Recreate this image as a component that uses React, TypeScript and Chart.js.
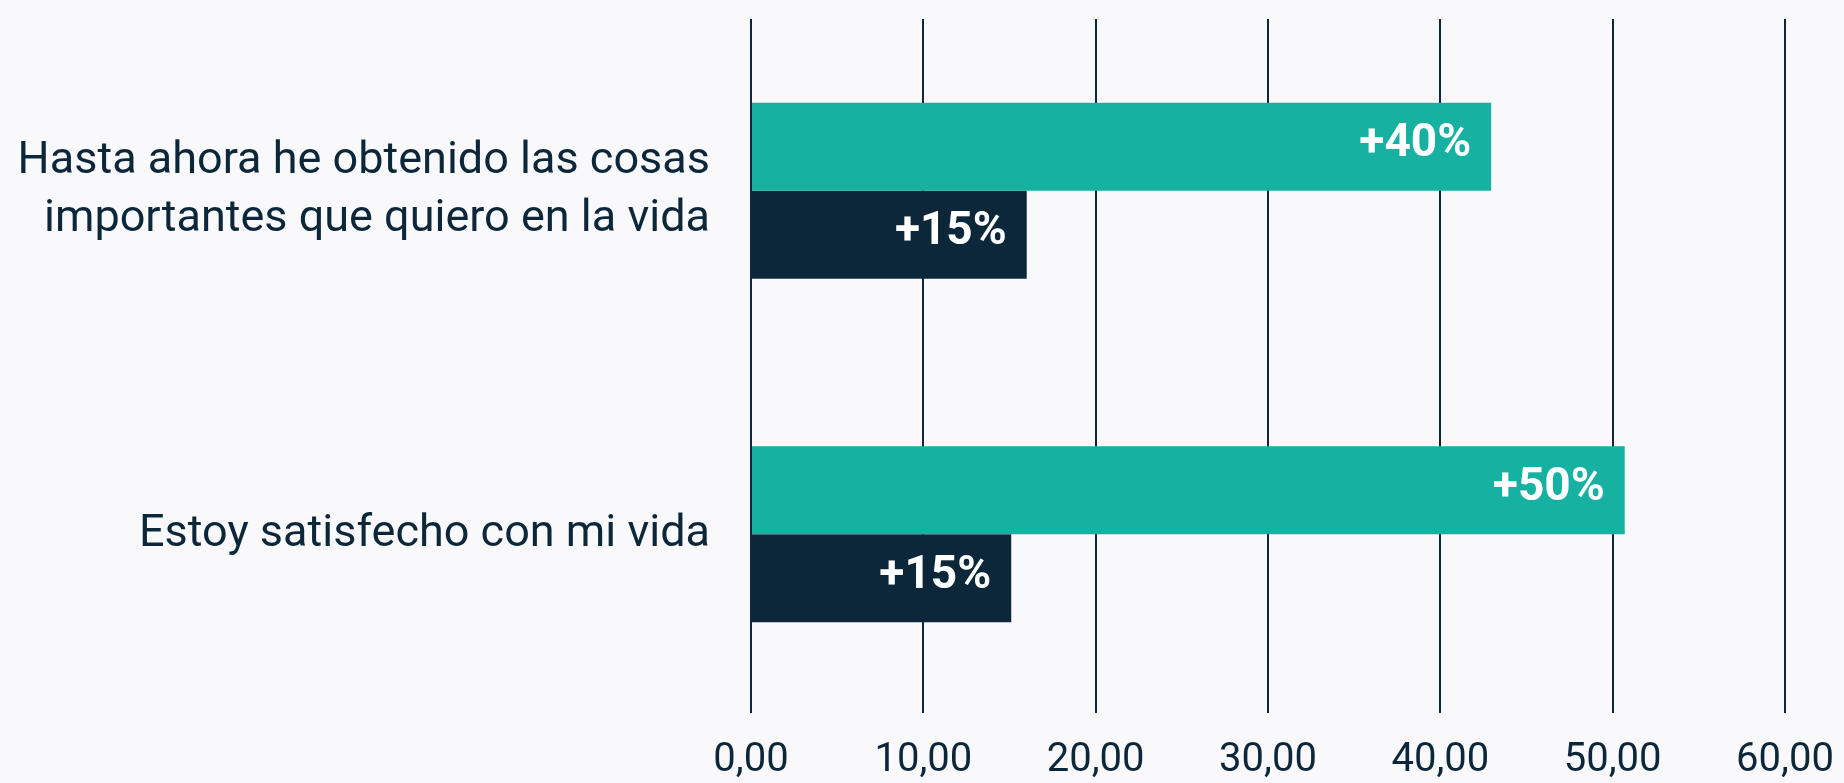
import React, { useEffect, useRef } from "react";
import { Chart, registerables } from "chart.js";

Chart.register(...registerables);

const categories: (string | string[])[] = [
  ["Hasta ahora he obtenido las cosas", "importantes que quiero en la vida"],
  "Estoy satisfecho con mi vida",
];
const tealValues = [42.95, 50.7];
const navyValues = [16.0, 15.1];
const tealLabels = ["+40%", "+50%"];
const navyLabels = ["+15%", "+15%"];
const xTicks = [0, 10, 20, 30, 40, 50, 60];

const TEAL = "#17B1A1";
const NAVY = "#0C2739";
const BG = "#F9F9FB";
const FONT = "Roboto";

const barLabelPlugin = {
  id: "barLabels",
  afterDatasetsDraw(chart: any) {
    const ctx = chart.ctx;
    const all = [tealLabels, navyLabels];
    chart.data.datasets.forEach((ds: any, di: number) => {
      const meta = chart.getDatasetMeta(di);
      meta.data.forEach((bar: any, i: number) => {
        ctx.save();
        ctx.fillStyle = "#FFFFFF";
        ctx.font = `bold 46px ${FONT}`;
        ctx.textAlign = "right";
        ctx.textBaseline = "middle";
        ctx.fillText(all[di][i], bar.x - 20, bar.y - 2);
        ctx.restore();
      });
    });
  },
};

export default function App() {
  const ref = useRef<HTMLCanvasElement | null>(null);
  useEffect(() => {
    document.body.style.margin = "0";
    document.body.style.background = BG;
    const canvas = ref.current!;
    const chart = new Chart(canvas, {
      type: "bar",
      data: {
        labels: categories as any,
        datasets: [
          {
            data: tealValues,
            backgroundColor: TEAL,
            categoryPercentage: 0.512,
            barPercentage: 1.0,
          },
          {
            data: navyValues,
            backgroundColor: NAVY,
            categoryPercentage: 0.512,
            barPercentage: 1.0,
          },
        ],
      },
      options: {
        indexAxis: "y",
        animation: false,
        responsive: false,
        maintainAspectRatio: false,
        layout: { padding: { top: 19, right: 59, left: 0, bottom: 0 } },
        plugins: {
          legend: { display: false },
          tooltip: { enabled: false },
        },
        scales: {
          x: {
            min: 0,
            max: 60,
            afterBuildTicks: (scale: any) => {
              scale.ticks = xTicks.map((v) => ({ value: v }));
            },
            afterFit: (scale: any) => {
              scale.height = 77;
              scale.paddingLeft = 0;
              scale.paddingRight = 0;
            },
            grid: {
              color: NAVY,
              lineWidth: 2,
              drawTicks: true,
              tickLength: 7,
              tickColor: NAVY,
            },
            border: { display: false },
            ticks: {
              color: NAVY,
              padding: 24,
              font: { family: FONT, size: 40 },
              callback: (v: any) => Number(v).toFixed(2).replace(".", ","),
            },
          },
          y: {
            afterFit: (scale: any) => {
              scale.width = 751;
              scale.paddingTop = 0;
              scale.paddingBottom = 0;
            },
            grid: { display: false, drawTicks: false },
            border: { display: false },
            ticks: {
              color: NAVY,
              padding: 41,
              font: { family: FONT, size: 45, lineHeight: 1.3 },
            },
          },
        },
      },
      plugins: [barLabelPlugin],
    });
    return () => chart.destroy();
  }, []);
  return (
    <div style={{ width: 1844, height: 783, background: BG }}>
      <canvas ref={ref} width={1844} height={783} style={{ display: "block" }} />
    </div>
  );
}
